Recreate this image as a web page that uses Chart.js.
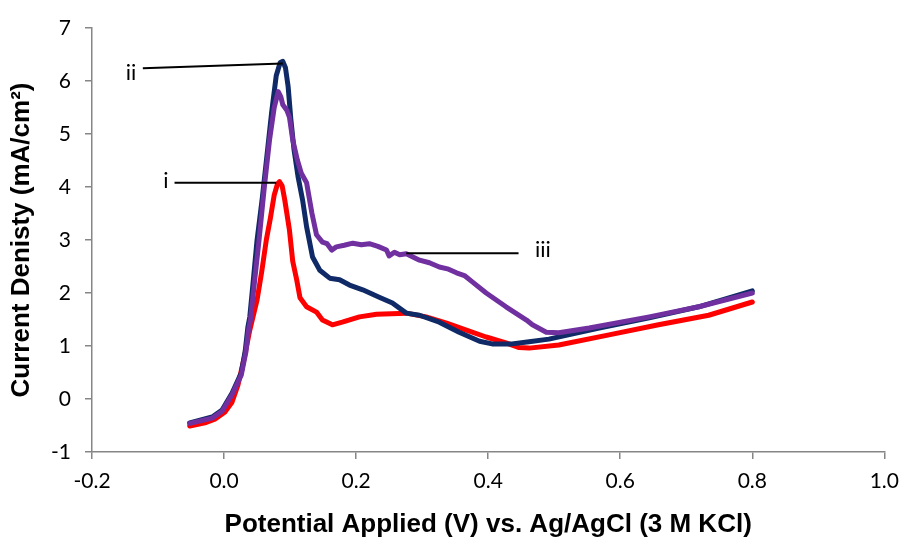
<!DOCTYPE html>
<html>
<head>
<meta charset="utf-8">
<script src="https://cdn.jsdelivr.net/npm/chart.js@4/dist/chart.umd.min.js"></script>
<style>
  html, body { margin: 0; padding: 0; background: #fff; }
  #wrap { width: 909px; height: 540px; }
</style>
</head>
<body>
<div id="wrap"><canvas id="cv" width="909" height="540"></canvas></div>
<script>
// curve i (red)
var xI = [-0.052, -0.029, -0.014, 0.001, 0.012, 0.021, 0.031, 0.039, 0.050, 0.057, 0.064, 0.070, 0.076, 0.081, 0.084, 0.088, 0.092, 0.099, 0.104, 0.110, 0.115, 0.125, 0.140, 0.149, 0.164, 0.179, 0.205, 0.231, 0.276, 0.306, 0.337, 0.367, 0.397, 0.427, 0.447, 0.462, 0.507, 0.583, 0.658, 0.734, 0.800];
var yI = [-0.51, -0.45, -0.38, -0.25, -0.06, 0.26, 0.80, 1.30, 1.87, 2.40, 3.00, 3.40, 3.85, 4.06, 4.10, 4.02, 3.75, 3.19, 2.60, 2.25, 1.91, 1.74, 1.64, 1.49, 1.40, 1.45, 1.55, 1.60, 1.62, 1.55, 1.43, 1.30, 1.17, 1.06, 0.97, 0.96, 1.02, 1.21, 1.40, 1.58, 1.83];

// curve ii (navy)
var xII = [-0.052, -0.018, -0.003, 0.012, 0.026, 0.032, 0.036, 0.039, 0.044, 0.050, 0.058, 0.065, 0.072, 0.079, 0.085, 0.089, 0.093, 0.097, 0.101, 0.106, 0.112, 0.119, 0.125, 0.134, 0.145, 0.160, 0.175, 0.190, 0.210, 0.235, 0.255, 0.276, 0.296, 0.326, 0.356, 0.387, 0.406, 0.436, 0.462, 0.492, 0.568, 0.644, 0.719, 0.800];
var yII = [-0.45, -0.34, -0.21, 0.11, 0.49, 0.90, 1.35, 1.55, 2.20, 3.00, 3.80, 4.60, 5.40, 6.10, 6.35, 6.37, 6.25, 5.90, 5.30, 4.70, 4.20, 3.75, 3.25, 2.68, 2.43, 2.28, 2.25, 2.15, 2.06, 1.92, 1.81, 1.62, 1.58, 1.45, 1.26, 1.09, 1.04, 1.04, 1.08, 1.13, 1.34, 1.53, 1.74, 2.04];

// curve iii (purple)
var xIII = [-0.052, -0.018, -0.003, 0.012, 0.026, 0.033, 0.037, 0.040, 0.046, 0.053, 0.061, 0.069, 0.076, 0.082, 0.086, 0.089, 0.095, 0.099, 0.104, 0.111, 0.117, 0.125, 0.133, 0.140, 0.149, 0.156, 0.163, 0.170, 0.182, 0.195, 0.208, 0.220, 0.233, 0.246, 0.250, 0.258, 0.266, 0.276, 0.286, 0.296, 0.311, 0.326, 0.340, 0.352, 0.364, 0.376, 0.397, 0.427, 0.458, 0.467, 0.488, 0.507, 0.553, 0.644, 0.719, 0.800];
var yIII = [-0.46, -0.36, -0.23, 0.08, 0.45, 0.88, 1.30, 1.50, 2.20, 3.00, 4.00, 4.90, 5.50, 5.80, 5.70, 5.55, 5.45, 5.32, 4.89, 4.51, 4.26, 4.08, 3.51, 3.10, 2.96, 2.93, 2.81, 2.87, 2.90, 2.94, 2.91, 2.93, 2.88, 2.81, 2.70, 2.77, 2.72, 2.74, 2.68, 2.62, 2.57, 2.49, 2.45, 2.38, 2.33, 2.21, 2.00, 1.74, 1.49, 1.40, 1.26, 1.25, 1.34, 1.55, 1.74, 2.00];

var xTicks = [-0.2, 0.0, 0.2, 0.4, 0.6, 0.8, 1.0];
var yTicks = [-1, 0, 1, 2, 3, 4, 5, 6, 7];

// callout labels: text, label position, leader line start/end
var calloutText = ["i", "ii", "iii"];
var calloutX = [-0.088, -0.141, 0.483];
var calloutY = [4.11, 6.15, 2.81];
var lineX1 = [-0.075, -0.123, 0.276];
var lineY1 = [4.08, 6.24, 2.75];
var lineX2 = [0.079, 0.089, 0.446];
var lineY2 = [4.08, 6.33, 2.75];

function pts(xs, ys) {
  return xs.map(function (x, i) { return { x: x, y: ys[i] }; });
}

var callouts = {
  id: "callouts",
  afterDatasetsDraw: function (chart) {
    var c = chart.ctx, sx = chart.scales.x, sy = chart.scales.y;
    c.save();
    c.strokeStyle = "#000";
    c.lineWidth = 2;
    for (var i = 0; i < calloutText.length; i++) {
      c.beginPath();
      c.moveTo(sx.getPixelForValue(lineX1[i]), sy.getPixelForValue(lineY1[i]));
      c.lineTo(sx.getPixelForValue(lineX2[i]), sy.getPixelForValue(lineY2[i]));
      c.stroke();
    }
    c.fillStyle = "#000";
    c.font = "22px Lato";
    c.textAlign = "center";
    c.textBaseline = "middle";
    for (var j = 0; j < calloutText.length; j++) {
      c.fillText(calloutText[j], sx.getPixelForValue(calloutX[j]), sy.getPixelForValue(calloutY[j]));
    }
    c.restore();
  }
};

var axisGrey = "#868686";
var tickFont = { family: "Lato", size: 21 };
var titleFont = { family: "Liberation Sans", size: 26, weight: "bold" };

var chart = new Chart(document.getElementById("cv"), {
  type: "scatter",
  data: {
    datasets: [
      { label: "iii", data: pts(xIII, yIII), borderColor: "#7030A0", order: 1 },
      { label: "ii", data: pts(xII, yII), borderColor: "#0F2A66", order: 2 },
      { label: "i", data: pts(xI, yI), borderColor: "#FF0000", order: 3 }
    ].map(function (d) {
      d.showLine = true;
      d.pointRadius = 0;
      d.borderWidth = 5;
      d.tension = 0;
      d.borderCapStyle = "round";
      d.borderJoinStyle = "round";
      d.fill = false;
      return d;
    })
  },
  options: {
    responsive: false,
    devicePixelRatio: 1,
    animation: false,
    layout: { padding: { top: 28, right: 23, left: 0, bottom: 0 } },
    plugins: { legend: { display: false }, tooltip: { enabled: false } },
    scales: {
      x: {
        type: "linear",
        min: -0.2,
        max: 1.0,
        afterBuildTicks: function (s) { s.ticks = xTicks.map(function (v) { return { value: v }; }); },
        afterFit: function (s) { s.height = 88; },
        ticks: {
          color: "#000",
          font: tickFont,
          padding: 10,
          maxRotation: 0,
          callback: function (v) { return v.toFixed(1); }
        },
        grid: { drawOnChartArea: false, drawTicks: true, tickLength: 7, color: axisGrey, lineWidth: 1.5 },
        border: { color: axisGrey, width: 1.5 },
        title: { display: true, text: "Potential Applied (V) vs. Ag/AgCl (3 M KCl)", color: "#000", font: titleFont, padding: { top: 0, bottom: 0 } }
      },
      y: {
        type: "linear",
        min: -1,
        max: 7,
        afterBuildTicks: function (s) { s.ticks = yTicks.map(function (v) { return { value: v }; }); },
        afterFit: function (s) { s.width = 92; },
        ticks: { color: "#000", font: tickFont, padding: 14 },
        grid: { drawOnChartArea: false, drawTicks: true, tickLength: 7, color: axisGrey, lineWidth: 1.5 },
        border: { color: axisGrey, width: 1.5 },
        title: { display: true, text: "Current Denisty (mA/cm²)", color: "#000", font: titleFont, padding: { top: 6, bottom: 0 } }
      }
    }
  },
  plugins: [callouts]
});
</script>
</body>
</html>
